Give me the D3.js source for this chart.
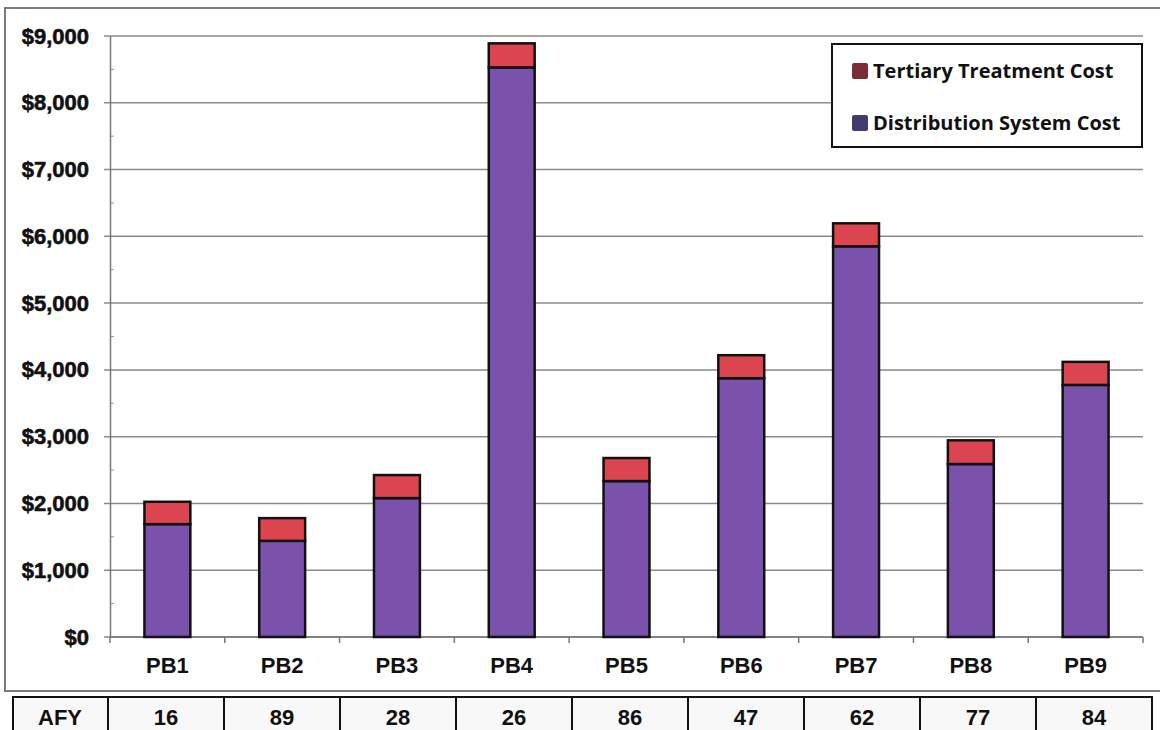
<!DOCTYPE html>
<html>
<head>
<meta charset="utf-8">
<script src="https://cdn.jsdelivr.net/npm/d3@7"></script>
<style>
  body { margin: 0; background: #fff; }
  svg { display: block; }
</style>
</head>
<body>
<svg id="chart" width="1160" height="730"></svg>
<script>
/* chart data */
const categories = ["PB1", "PB2", "PB3", "PB4", "PB5", "PB6", "PB7", "PB8", "PB9"];
const distributionCost = [1690, 1440, 2080, 8530, 2335, 3875, 5850, 2590, 3775];
const tertiaryCost = [335, 340, 345, 360, 345, 345, 345, 355, 345];
const afyValues = [16, 89, 28, 26, 86, 47, 62, 77, 84];
const yTicks = [0, 1000, 2000, 3000, 4000, 5000, 6000, 7000, 8000, 9000];
const legendLabels = ["Tertiary Treatment Cost", "Distribution System Cost"];

/* layout */
const plot = { left: 110, right: 1143, top: 36, bottom: 637 };
const colors = {
    dist: "#7b52ab", tert: "#dc4450",
    distKey: "#433c6c", tertKey: "#7c2c36"
};
const boldFont = "'Liberation Sans', Arial, sans-serif";

const svg = d3.select("#chart");

// outer frame
svg.append("rect")
    .attr("x", 5).attr("y", 8)
    .attr("width", 1170).attr("height", 683)
    .attr("fill", "none").attr("stroke", "#7a7a7a").attr("stroke-width", 2);

let x = d3.scaleBand()
            .domain(categories)
            .range([plot.left, plot.right])
            .paddingInner(0.6)
            .paddingOuter(0.3);

let y = d3.scaleLinear()
            .domain([0, 9000])
            .range([plot.bottom, plot.top]);

// gridlines
svg.append("g")
    .selectAll("line")
    .data(yTicks)
    .join("line")
    .attr("x1", plot.left - 6).attr("x2", plot.right)
    .attr("y1", d => y(d)).attr("y2", d => y(d))
    .attr("stroke", "#8a8a8a").attr("stroke-width", 1.5);

// minor ticks
svg.append("g")
    .selectAll("line")
    .data(yTicks.slice(0, -1).map(d => d + 500))
    .join("line")
    .attr("x1", plot.left).attr("x2", plot.left + 4)
    .attr("y1", d => y(d)).attr("y2", d => y(d))
    .attr("stroke", "#999").attr("stroke-width", 1);

// y axis
let yAxis = d3.axisLeft(y)
                .tickValues(yTicks)
                .tickSize(0)
                .tickPadding(21)
                .tickFormat(d => "$" + d3.format(",")(d));

svg.append("g")
    .attr("transform", `translate(${plot.left},0)`)
    .call(yAxis)
    .call(g => g.select(".domain").attr("stroke", "#777").attr("stroke-width", 1.5))
    .call(g => g.selectAll("text")
        .attr("font-family", boldFont)
        .attr("font-weight", "bold")
        .attr("font-size", 22)
        .attr("stroke", "#111").attr("stroke-width", 0.6)
        .attr("fill", "#111"));

// x axis with ticks at category boundaries
let xBounds = d3.scaleLinear().domain([0, categories.length]).range([plot.left, plot.right]);
svg.append("line")
    .attr("x1", plot.left).attr("x2", plot.right)
    .attr("y1", plot.bottom).attr("y2", plot.bottom)
    .attr("stroke", "#777").attr("stroke-width", 1.5);
svg.append("g")
    .selectAll("line")
    .data(d3.range(categories.length + 1))
    .join("line")
    .attr("x1", d => xBounds(d)).attr("x2", d => xBounds(d))
    .attr("y1", plot.bottom).attr("y2", plot.bottom + 6)
    .attr("stroke", "#777").attr("stroke-width", 1.5);

svg.append("g")
    .selectAll("text")
    .data(categories)
    .join("text")
    .attr("x", d => x(d) + x.bandwidth() / 2)
    .attr("y", 673)
    .attr("text-anchor", "middle")
    .attr("font-family", boldFont)
    .attr("font-weight", "bold")
    .attr("font-size", 22)
    .attr("fill", "#111")
    .text(d => d);

// stacked bars
let rows = categories.map((c, i) => ({ cat: c, dist: distributionCost[i], tert: tertiaryCost[i] }));
let stacked = d3.stack().keys(["dist", "tert"])(rows);

svg.append("g")
    .selectAll("g")
    .data(stacked)
    .join("g")
    .attr("fill", d => colors[d.key])
    .selectAll("rect")
    .data(d => d)
    .join("rect")
    .attr("x", d => x(d.data.cat))
    .attr("y", d => y(d[1]))
    .attr("width", x.bandwidth())
    .attr("height", d => y(d[0]) - y(d[1]))
    .attr("stroke", "#111")
    .attr("stroke-width", 2.5);

// legend
let legend = svg.append("g");
legend.append("rect")
    .attr("x", 832).attr("y", 44)
    .attr("width", 310).attr("height", 103)
    .attr("fill", "#fff").attr("stroke", "#111").attr("stroke-width", 2);

let legendKeys = [colors.tertKey, colors.distKey];
legendLabels.forEach((label, i) => {
    let cy = 71 + i * 52;
    legend.append("rect")
        .attr("x", 852).attr("y", cy - 8)
        .attr("width", 16).attr("height", 16)
        .attr("rx", 2)
        .attr("fill", legendKeys[i]);
    legend.append("text")
        .attr("x", 873).attr("y", cy)
        .attr("dy", "0.35em")
        .attr("font-family", "'Open Sans', sans-serif")
        .attr("font-weight", 700)
        .attr("font-size", 20)
        .attr("fill", "#111")
        .text(label);
});

// AFY table
let tableTop = 697;
let tableBottom = 742;
let colX = d3.scaleLinear().domain([0, categories.length]).range([108, 1152]);
let table = svg.append("g");

table.append("rect")
    .attr("x", 13).attr("y", tableTop)
    .attr("width", 1152 - 13).attr("height", tableBottom - tableTop)
    .attr("fill", "#f8f8f8").attr("stroke", "#111").attr("stroke-width", 2);

table.selectAll("line.div")
    .data(d3.range(categories.length))
    .join("line")
    .attr("class", "div")
    .attr("x1", d => colX(d)).attr("x2", d => colX(d))
    .attr("y1", tableTop).attr("y2", tableBottom)
    .attr("stroke", "#111").attr("stroke-width", 2);

table.append("text")
    .attr("x", 60).attr("y", 725)
    .attr("text-anchor", "middle")
    .attr("font-family", boldFont)
    .attr("font-weight", "bold")
    .attr("font-size", 22)
    .attr("fill", "#111")
    .text("AFY");

table.selectAll("text.val")
    .data(afyValues)
    .join("text")
    .attr("class", "val")
    .attr("x", (d, i) => (colX(i) + colX(i + 1)) / 2)
    .attr("y", 725)
    .attr("text-anchor", "middle")
    .attr("font-family", boldFont)
    .attr("font-weight", "bold")
    .attr("font-size", 22)
    .attr("fill", "#111")
    .text(d => d);
</script>
</body>
</html>
